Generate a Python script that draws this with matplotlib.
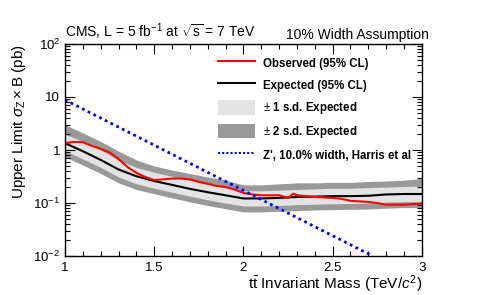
import numpy as np
import matplotlib
matplotlib.use("Agg")
import matplotlib.pyplot as plt
from matplotlib.patches import Patch
from matplotlib.lines import Line2D
from matplotlib.ticker import FixedLocator, MultipleLocator, LogLocator, NullFormatter

plt.rcParams['font.family'] = ['Liberation Sans', 'DejaVu Sans']
plt.rcParams['mathtext.fontset'] = 'custom'
plt.rcParams['mathtext.rm'] = 'Liberation Sans'
plt.rcParams['mathtext.it'] = 'Liberation Sans:italic'
plt.rcParams['mathtext.bf'] = 'Liberation Sans:bold'

# band / expected limit (pb) vs mass (TeV)
mass = [1.0, 1.1, 1.2, 1.3, 1.4, 1.5, 1.6, 1.7, 1.8, 1.9, 2.0,
        2.1, 2.2, 2.3, 2.4, 2.5, 2.6, 2.7, 2.8, 2.9, 3.0]
expected = [1.35, 0.95, 0.65, 0.43, 0.32, 0.26, 0.22, 0.185, 0.16, 0.14, 0.122,
            0.122, 0.125, 0.13, 0.132, 0.135, 0.135, 0.137, 0.145, 0.148, 0.148]
up2 = [3.0, 2.1, 1.45, 0.95, 0.65, 0.5, 0.42, 0.36, 0.31, 0.27, 0.22,
       0.22, 0.23, 0.24, 0.24, 0.245, 0.245, 0.255, 0.26, 0.27, 0.29]
up1 = [2.0, 1.45, 1.0, 0.65, 0.47, 0.38, 0.32, 0.27, 0.235, 0.2, 0.17,
       0.17, 0.175, 0.18, 0.185, 0.19, 0.19, 0.195, 0.2, 0.205, 0.21]
dn1 = [0.97, 0.68, 0.47, 0.31, 0.23, 0.19, 0.16, 0.135, 0.115, 0.1, 0.088,
       0.088, 0.09, 0.093, 0.095, 0.097, 0.098, 0.1, 0.104, 0.106, 0.107]
dn2 = [0.74, 0.52, 0.36, 0.24, 0.18, 0.15, 0.125, 0.105, 0.09, 0.078, 0.068,
       0.068, 0.07, 0.072, 0.074, 0.075, 0.076, 0.077, 0.08, 0.082, 0.082]

# observed limit
obs_mass = [1.0, 1.05, 1.1, 1.15, 1.2, 1.25, 1.3, 1.35, 1.4, 1.45, 1.5, 1.55, 1.6,
            1.65, 1.7, 1.75, 1.8, 1.85, 1.9, 1.95, 2.0, 2.05, 2.1, 2.15, 2.2,
            2.25, 2.28, 2.3, 2.35, 2.4, 2.5, 2.55, 2.6, 2.7, 2.75, 2.8, 2.9, 3.0]
observed = [1.35, 1.42, 1.4, 1.2, 1.05, 0.9, 0.68, 0.48, 0.37, 0.31, 0.27, 0.28, 0.29,
            0.29, 0.28, 0.25, 0.23, 0.21, 0.2, 0.18, 0.155, 0.145, 0.14, 0.14, 0.14,
            0.125, 0.15, 0.14, 0.135, 0.13, 0.125, 0.12, 0.11, 0.105, 0.1, 0.093, 0.093, 0.097]

# Z' theory curve
zp_mass = [1.0, 2.725]
zp_xsec = [8.8, 0.01]

fig = plt.figure(figsize=(4.98, 2.95), dpi=100)
ax = fig.add_axes([0.1305, 0.132, 0.7165, 0.719])

ax.fill_between(mass, dn2, up2, color='#999999', lw=0)
ax.fill_between(mass, dn1, up1, color='#e3e3e3', lw=0)
ax.plot(mass, expected, color='black', lw=1.5)
ax.plot(obs_mass, observed, color='red', lw=1.5)
ax.plot(zp_mass, zp_xsec, color='blue', lw=2, ls=(0, (1, 1.3)))

ax.set_yscale('log')
ax.set_xlim(1, 3)
ax.set_ylim(1e-2, 1e2)

ax.xaxis.set_major_locator(FixedLocator([1, 1.5, 2, 2.5, 3]))
ax.xaxis.set_minor_locator(MultipleLocator(0.1))
ax.set_xticklabels(['1', '1.5', '2', '2.5', '3'])
ax.yaxis.set_major_locator(FixedLocator([1e-2, 1e-1, 1, 10, 100]))
ax.yaxis.set_minor_locator(LogLocator(base=10, subs=np.arange(2, 10), numticks=20))
ax.yaxis.set_minor_formatter(NullFormatter())
ax.set_yticklabels([r'$10^{-2}$', r'$10^{-1}$', '1', '10', r'$10^{2}$'])

ax.tick_params(which='both', direction='in', top=True, right=True, labelsize=9.5)
ax.tick_params(which='major', length=7, width=0.8)
ax.tick_params(which='minor', length=3.5, width=0.8)
ax.tick_params(axis='x', pad=4)
for s in ax.spines.values():
    s.set_linewidth(1.0)

ax.set_xlabel(r"t$\bar{\rm t}$ Invariant Mass (TeV/$c^2$)", fontsize=11, ha='right', x=1.0,
              labelpad=0)
ax.set_ylabel(r"Upper Limit $\sigma_{\rm Z}\times$B (pb)", fontsize=11, ha='right', y=1.0)

ax.text(0.0, 1.01, r"CMS, L = 5 fb$^{-1}$ at $\sqrt{\rm s}$ = 7 TeV", transform=ax.transAxes,
        fontsize=10, ha='left', va='bottom')
ax.text(1.02, 1.01, "10% Width Assumption", transform=ax.transAxes,
        fontsize=10, ha='right', va='bottom')

handles = [
    Line2D([], [], color='red', lw=1.5),
    Line2D([], [], color='black', lw=1.5),
    Patch(facecolor='#e3e3e3', edgecolor='none'),
    Patch(facecolor='#999999', edgecolor='none'),
    Line2D([], [], color='blue', lw=1.5, ls=(0, (1, 1))),
]
labels = ["Observed (95% CL)", "Expected (95% CL)", r"$\pm$ 1 s.d. Expected",
          r"$\pm$ 2 s.d. Expected", "Z', 10.0% width, Harris et al"]
leg = ax.legend(handles, labels, loc='upper left', bbox_to_anchor=(0.4, 0.995),
                frameon=False, prop={'weight': 'bold', 'size': 8.3},
                handlelength=3.2, handleheight=1.6, labelspacing=0.65, handletextpad=0.7)

fig.savefig('out.png', dpi=100)
